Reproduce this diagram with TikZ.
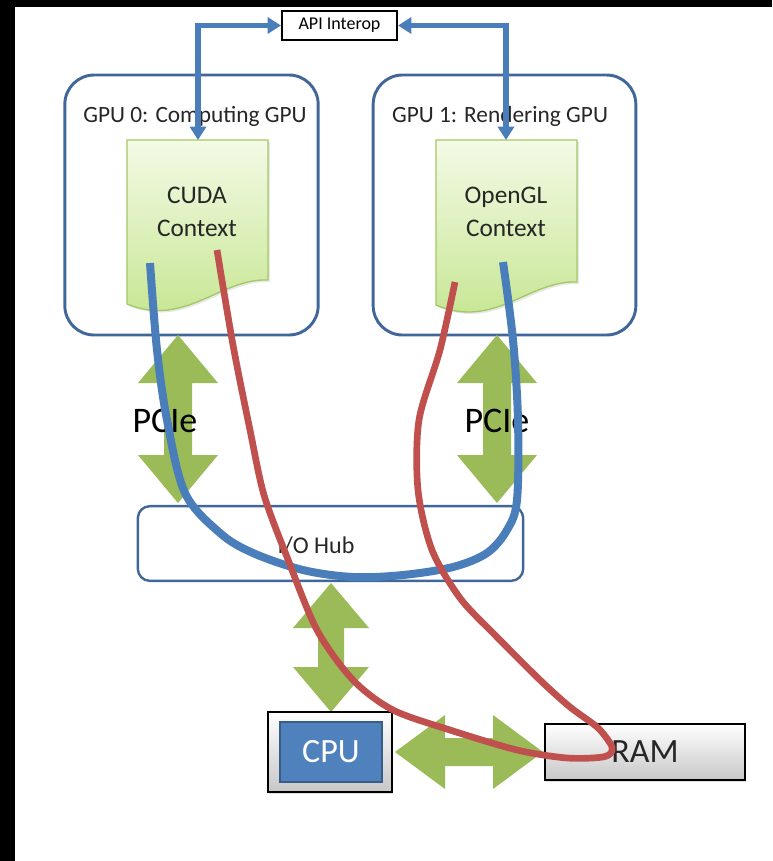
\documentclass[tikz,border=0pt]{standalone}
\usepackage{fontspec}
\setmainfont{Carlito}
\usepackage{tikz}
\usetikzlibrary{arrows.meta,shadows}
\definecolor{gpiedge}   {HTML}{41679A}
\definecolor{gpiblue}   {HTML}{4A7EBB}
\definecolor{gpired}    {HTML}{C0504D}
\definecolor{gpigreen}  {HTML}{9BBB59}
\definecolor{gpidoctop} {HTML}{F4FAE6}
\definecolor{gpidocbot} {HTML}{C4E58E}
\definecolor{gpidocedge}{HTML}{A3C864}
\definecolor{gpichip}   {HTML}{4F81BD}
\definecolor{gpichipedge}{HTML}{385D8A}
\definecolor{gpitext}   {HTML}{262626}

\begin{document}
\begin{tikzpicture}[
  x=0.75pt, y=-0.75pt,
  gpubox/.style={draw=gpiedge, line width=2.2pt, rounded corners=22pt, fill=white,
                 minimum width=190pt, minimum height=195pt, inner sep=0pt},
  gpulbl/.style={text=gpitext, font=\fontsize{17.5}{20}\selectfont, inner sep=0pt},
  docpage/.style={draw=gpidocedge, line width=1pt,
                  top color=gpidoctop, bottom color=gpidocbot,
                  drop shadow={opacity=0.18, shadow xshift=1.5pt, shadow yshift=-1.5pt}},
  doctext/.style={text=gpitext, align=center, font=\fontsize{19}{25}\selectfont, inner sep=0pt},
  apibox/.style={draw=black, line width=1.8pt, fill=white, inner sep=0pt,
                 minimum width=86pt, minimum height=22pt,
                 font=\fontsize{13.5}{16}\selectfont},
  interop/.style={draw=gpiblue, line width=4pt,
                  {Triangle[length=10pt,width=12pt]}-{Triangle[length=10pt,width=12pt]}},
  busarrow/.style={fill=gpigreen},
  buslbl/.style={text=black, font=\fontsize{27}{30}\selectfont, inner sep=0pt},
  hubbox/.style={draw=gpiedge, line width=1.8pt, rounded corners=9pt, fill=white,
                 minimum width=289pt, minimum height=56pt, inner sep=0pt},
  hublbl/.style={text=gpitext, font=\fontsize{18}{20}\selectfont, inner sep=0pt},
  greybox/.style={draw=black, line width=1.5pt, inner sep=0pt,
                  top color=white, bottom color=black!22,
                  drop shadow={opacity=0.25, shadow xshift=1pt, shadow yshift=-1.5pt}},
  chip/.style={draw=gpichipedge, line width=1.5pt, fill=gpichip, inner sep=0pt,
               minimum width=76.5pt, minimum height=45pt, text=white,
               font=\fontsize{25.5}{28}\selectfont},
  bluetrace/.style={draw=gpiblue, line width=6pt},
  redtrace/.style={draw=gpired, line width=5pt},
]
  \useasboundingbox (0,0) rectangle (772,861);
  \fill[white] (0,0) rectangle (772,861);
  \fill[black] (0,0) rectangle (15,861);
  \fill[black] (0,0) rectangle (772,7);

  % the two GPUs
  \node[gpubox] (gpu0) at (191.5,205) {};
  \node[gpubox, minimum width=197pt] (gpu1) at (504.5,205) {};
  \node[gpulbl] (gpu0lbl) at (195,116) {GPU 0: Computing GPU};
  \node[gpulbl] (gpu1lbl) at (500,116) {GPU 1: Rendering GPU};

  % context pages with a wavy foot
  \draw[docpage] (127,140) -- (268,140) -- (268,280)
    .. controls (220,278) and (185,328) .. (127,304) -- cycle;
  \draw[docpage] (436,140) -- (577,140) -- (577,282)
    .. controls (529,280) and (494,330) .. (436,305) -- cycle;
  \node[doctext] (cuda)   at (197,212) {CUDA\\Context};
  \node[doctext] (opengl) at (506,212) {OpenGL\\Context};
  \coordinate (cudatop)   at (198,140);
  \coordinate (opengltop) at (506,140);

  % interop link
  \node[apibox] (api) at (339.5,25.5) {API Interop};
  \draw[interop] (api.west) -| (cudatop);
  \draw[interop] (api.east) -| (opengltop);

  % block arrows: centre x / tip top / tip bottom / head length / head half / shaft half
  \foreach \cx/\ya/\yb/\hl/\hw/\sw in {178/335/503/48/40/14, 497/335/503/48/40/14,
                                       331/583/712/45/38/13}
    { \fill[busarrow] (\cx,\ya) -- (\cx+\hw,\ya+\hl) -- (\cx+\sw,\ya+\hl)
        -- (\cx+\sw,\yb-\hl) -- (\cx+\hw,\yb-\hl) -- (\cx,\yb)
        -- (\cx-\hw,\yb-\hl) -- (\cx-\sw,\yb-\hl) -- (\cx-\sw,\ya+\hl)
        -- (\cx-\hw,\ya+\hl) -- cycle; }
  \fill[busarrow] (395,752) -- (445,715) -- (445,738) -- (493,738) -- (493,715)
    -- (543,752) -- (493,789) -- (493,766) -- (445,766) -- (445,789) -- cycle;
  \node[buslbl] (pcie0) at (165,421) {PCIe};
  \node[buslbl] (pcie1) at (497,421) {PCIe};

  % hub, CPU and memory
  \node[hubbox] (hub) at (330.5,543.5) {};
  \node[hublbl] (hublbl) at (316,546) {I/O Hub};
  \node[greybox, minimum width=93pt, minimum height=60pt] (cpu) at (330,752) {};
  \node[chip] (cpuchip) at (331,752) {CPU};
  \node[greybox, minimum width=150pt, minimum height=42pt,
        font=\fontsize{25.5}{28}\selectfont, text=gpitext] (ram) at (645,752) {RAM};

  % data paths
  \draw[bluetrace] plot[smooth, tension=0.55] coordinates {(150,263) (157,350) (167,420)
    (185,493) (220,533) (253,553) (303,570) (353,577) (403,575) (453,567) (487,553)
    (507,530) (517,500) (518,420) (513,340) (503,262)};
  \draw[redtrace] plot[smooth, tension=0.5] coordinates {(217,250) (233,345) (250,430)
    (264,495) (287,557) (317,630) (353,680) (393,710) (450,730) (517,750) (567,758)
    (603,757) (612,751) (610,743) (597,727) (570,707) (540,680) (495,635) (460,598)
    (432,550) (418,490) (419,420) (440,350) (455,282)};
\end{tikzpicture}
\end{document}
